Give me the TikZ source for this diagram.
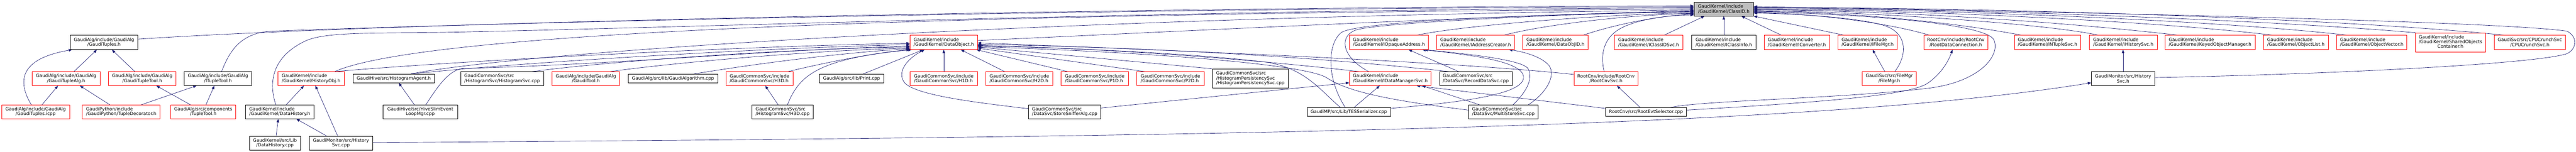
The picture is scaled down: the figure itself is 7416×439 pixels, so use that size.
\documentclass[tikz,border=0pt]{standalone}
\usepackage{fontspec}
\setmainfont{DejaVu Sans}
\usetikzlibrary{arrows.meta}
\definecolor{edgeblue}{HTML}{191970}
\definecolor{cidgray}{HTML}{BFBFBF}
\newcommand\ndfont{\fontsize{13bp}{14bp}\selectfont}
\newcommand\nd[7]{%
  \pgfmathsetmacro\ndw{#3-#2}%
  \pgfmathsetmacro\ndh{#5-#4}%
  \pgfmathsetmacro\ndx{(#2+#3)/2}%
  \pgfmathsetmacro\ndy{(#4+#5)/2}%
  \node[#6, minimum width=\ndw bp, minimum height=\ndh bp] (#1) at (\ndx,\ndy) {#7};}
\pgfdeclarelayer{back}
\pgfdeclarelayer{edges}
\pgfsetlayers{back,edges,main}
\begin{document}
\begin{tikzpicture}[x=1bp,y=-1bp,
  nb/.style={draw=black, line width=1bp, fill=white, inner sep=0pt, font=\ndfont, text=black},
  nr/.style={nb, draw=red},
  lft/.style={align=left},
  ctr/.style={align=center},
  edg/.style={draw=edgeblue, line width=1bp, -{Triangle[length=10bp,width=7.5bp]}}]
\useasboundingbox (0,0) rectangle (7416,439);
\begin{pgfonlayer}{back}
\fill[white] (0,0) rectangle (7416,439);
\end{pgfonlayer}
% ---------------- nodes
\nd{cid}{4877}{5048}{6}{46}{nb,lft,fill=cidgray}{GaudiKernel/include\\/GaudiKernel/ClassID.h}
% row 1
\nd{gt}{202}{397}{102}{143}{nb,ctr}{GaudiAlg/include/GaudiAlg\\/GaudiTuples.h}
\nd{dobj}{2620}{2814}{102}{143}{nr,lft}{GaudiKernel/include\\/GaudiKernel/DataObject.h}
\nd{iopa}{3885}{4112}{102}{143}{nr,lft}{GaudiKernel/include\\/GaudiKernel/IOpaqueAddress.h}
\nd{iac}{4136}{4360}{102}{143}{nr,lft}{GaudiKernel/include\\/GaudiKernel/IAddressCreator.h}
\nd{doid}{4384}{4572}{102}{143}{nr,lft}{GaudiKernel/include\\/GaudiKernel/DataObjID.h}
\nd{icids}{4647}{4845}{102}{143}{nr,lft}{GaudiKernel/include\\/GaudiKernel/IClassIDSvc.h}
\nd{icinfo}{4870}{5055}{102}{143}{nb,lft}{GaudiKernel/include\\/GaudiKernel/IClassInfo.h}
\nd{iconv}{5079}{5267}{102}{143}{nr,lft}{GaudiKernel/include\\/GaudiKernel/IConverter.h}
\nd{ifm}{5291}{5462}{102}{143}{nr,lft}{GaudiKernel/include\\/GaudiKernel/IFileMgr.h}
\nd{rdc}{5538}{5723}{102}{143}{nr,ctr}{RootCnv/include/RootCnv\\/RootDataConnection.h}
\nd{ints}{5799}{5990}{102}{143}{nr,lft}{GaudiKernel/include\\/GaudiKernel/INTupleSvc.h}
\nd{ihs}{6015}{6210}{102}{143}{nr,lft}{GaudiKernel/include\\/GaudiKernel/IHistorySvc.h}
\nd{kom}{6233}{6492}{102}{143}{nr,lft}{GaudiKernel/include\\/GaudiKernel/KeyedObjectManager.h}
\nd{olist}{6516}{6703}{102}{143}{nr,lft}{GaudiKernel/include\\/GaudiKernel/ObjectList.h}
\nd{ovec}{6727}{6929}{102}{143}{nr,lft}{GaudiKernel/include\\/GaudiKernel/ObjectVector.h}
\nd{soc}{6953}{7156}{95}{150}{nr}{\begin{tabular}{@{}l@{}}GaudiKernel/include\\/GaudiKernel/SharedObjects\\\multicolumn{1}{@{}c@{}}{Container.h}\end{tabular}}
\nd{cpu}{7181}{7385}{102}{143}{nr,ctr}{GaudiSvc/src/CPUCrunchSvc\\/CPUCrunchSvc.h}
% row 2
\nd{gtalg}{93}{288}{207}{247}{nr,ctr}{GaudiAlg/include/GaudiAlg\\/GaudiTupleAlg.h}
\nd{gttool}{312}{507}{207}{247}{nr,ctr}{GaudiAlg/include/GaudiAlg\\/GaudiTupleTool.h}
\nd{itt}{530}{725}{207}{247}{nb,ctr}{GaudiAlg/include/GaudiAlg\\/ITupleTool.h}
\nd{hobj}{800}{991}{207}{247}{nr,lft}{GaudiKernel/include\\/GaudiKernel/HistoryObj.h}
\nd{hagent}{1016}{1251}{214}{239}{nb}{GaudiHive/src/HistogramAgent.h}
\nd{hsvccpp}{1326}{1565}{207}{247}{nb,lft}{GaudiCommonSvc/src\\/HistogramSvc/HistogramSvc.cpp}
\nd{gtool}{1589}{1784}{207}{247}{nr,ctr}{GaudiAlg/include/GaudiAlg\\/GaudiTool.h}
\nd{galgcpp}{1809}{2066}{214}{239}{nb}{GaudiAlg/src/lib/GaudiAlgorithm.cpp}
\nd{h3d}{2090}{2283}{207}{247}{nr,lft}{GaudiCommonSvc/include\\/GaudiCommonSvc/H3D.h}
\nd{print}{2359}{2544}{214}{239}{nb}{GaudiAlg/src/lib/Print.cpp}
\nd{h1d}{2620}{2814}{207}{247}{nr,lft}{GaudiCommonSvc/include\\/GaudiCommonSvc/H1D.h}
\nd{h2d}{2838}{3031}{207}{247}{nr,lft}{GaudiCommonSvc/include\\/GaudiCommonSvc/H2D.h}
\nd{p1d}{3055}{3248}{207}{247}{nr,lft}{GaudiCommonSvc/include\\/GaudiCommonSvc/P1D.h}
\nd{p2d}{3273}{3466}{207}{247}{nr,lft}{GaudiCommonSvc/include\\/GaudiCommonSvc/P2D.h}
\nd{hpers}{3490}{3709}{199}{254}{nb,lft}{GaudiCommonSvc/src\\/HistogramPersistencySvc\\/HistogramPersistencySvc.cpp}
\nd{idms}{3885}{4120}{207}{247}{nr,lft}{GaudiKernel/include\\/GaudiKernel/IDataManagerSvc.h}
\nd{rds}{4144}{4353}{207}{247}{nb,lft}{GaudiCommonSvc/src\\/DataSvc/RecordDataSvc.cpp}
\nd{rcs}{4531}{4716}{207}{247}{nr,ctr}{RootCnv/include/RootCnv\\/RootCnvSvc.h}
\nd{fmgr}{5361}{5517}{207}{247}{nr,ctr}{GaudiSvc/src/FileMgr\\/FileMgr.h}
\nd{hsvch}{6021}{6203}{207}{247}{nb,ctr}{GaudiMonitor/src/History\\Svc.h}
% row 3
\nd{icpp}{5}{200}{303}{343}{nr,ctr}{GaudiAlg/include/GaudiAlg\\/GaudiTuples.icpp}
\nd{tdec}{237}{461}{303}{343}{nr,lft}{GaudiPython/include\\/GaudiPython/TupleDecorator.h}
\nd{ttool}{491}{679}{303}{343}{nr,ctr}{GaudiAlg/src/components\\/TupleTool.h}
\nd{dhist}{707}{904}{303}{343}{nb,lft}{GaudiKernel/include\\/GaudiKernel/DataHistory.h}
\nd{hslim}{1103}{1317}{303}{343}{nb,ctr}{GaudiHive/src/HiveSlimEvent\\LoopMgr.cpp}
\nd{h3dcpp}{2165}{2341}{303}{343}{nb,lft}{GaudiCommonSvc/src\\/HistogramSvc/H3D.cpp}
\nd{sniff}{2961}{3169}{303}{343}{nb,lft}{GaudiCommonSvc/src\\/DataSvc/StoreSnifferAlg.cpp}
\nd{tes}{3763}{4003}{311}{336}{nb}{GaudiMP/src/Lib/TESSerializer.cpp}
\nd{mss}{4228}{4428}{303}{343}{nb,lft}{GaudiCommonSvc/src\\/DataSvc/MultiStoreSvc.cpp}
\nd{res}{4622}{4855}{311}{336}{nb}{RootCnv/src/RootEvtSelector.cpp}
% row 4
\nd{dhcpp}{718}{865}{393}{433}{nb,ctr}{GaudiKernel/src/Lib\\/DataHistory.cpp}
\nd{hsvccpp2}{890}{1073}{393}{433}{nb,ctr}{GaudiMonitor/src/History\\Svc.cpp}
% ---------------- edges
\begin{pgfonlayer}{edges}
\draw[edg] (213,0 |- gtalg.north) -- (279,0 |- gt.south);
\draw[edg] (388,0 |- gttool.north) -- (322,0 |- gt.south);
\draw[edg] (90,0 |- icpp.north) .. controls (50,235) and (55,170) .. (208,0 |- gt.south);
\draw[edg] (121,0 |- icpp.north) -- (167,0 |- gtalg.south);
\draw[edg] (316,0 |- tdec.north) -- (230,0 |- gtalg.south);
\draw[edg] (407,0 |- tdec.north) -- (566,0 |- itt.south);
\draw[edg] (548,0 |- ttool.north) -- (450,0 |- gttool.south);
\draw[edg] (593,0 |- ttool.north) -- (617,0 |- itt.south);
\draw[edg] (824,0 |- dhist.north) -- (875,0 |- hobj.south);
\draw[edg] (795,0 |- dhcpp.north) -- (801,0 |- dhist.south);
\draw[edg] (940,0 |- hsvccpp2.north) -- (853,0 |- dhist.south);
\draw[edg] (972,0 |- hsvccpp2.north) -- (908,0 |- hobj.south);
\draw[edg] (1193,0 |- hslim.north) -- (1148,0 |- hagent.south);
\draw[edg] (2240,0 |- h3dcpp.north) -- (2203,0 |- h3d.south);
% to ClassID from the left
\draw[edg] (gt.east |- 0,113) .. controls (1200,60) and (3400,20) .. (cid.west |- 0,17);
\draw[edg] (638,0 |- itt.north) .. controls (660,150) and (690,96) .. (780,90) .. controls (1600,60) and (3400,22) .. (cid.west |- 0,20);
\draw[edg] (794,0 |- dhist.north) .. controls (770,230) and (790,160) .. (880,118) .. controls (940,90) and (1100,97) .. (1300,93) .. controls (2000,79) and (3500,26) .. (cid.west |- 0,23);
\draw[edg] (964,0 |- hobj.north) .. controls (1250,80) and (3000,38) .. (cid.west |- 0,26);
\draw[edg] (1183,0 |- hagent.north) .. controls (1500,150) and (3000,50) .. (cid.west |- 0,29);
\draw[edg] (dobj.east |- 0,117) .. controls (3300,95) and (4300,45) .. (cid.west |- 0,31);
\draw[edg] (3940,0 |- idms.north) .. controls (3870,170) and (3850,110) .. (3900,88) .. controls (3950,66) and (4500,40) .. (cid.west |- 0,33);
\draw[edg] (3873,0 |- tes.north) .. controls (3820,230) and (3820,130) .. (3860,95) .. controls (3900,60) and (4500,38) .. (cid.west |- 0,35);
\draw[edg] (4080,0 |- iopa.north) .. controls (4200,75) and (4600,42) .. (cid.west |- 0,37);
\draw[edg] (4330,0 |- iac.north) .. controls (4450,70) and (4700,42) .. (cid.west |- 0,39);
\draw[edg] (4558,0 |- doid.north) .. controls (4650,70) and (4780,45) .. (cid.west |- 0,41);
\draw[edg] (4618,0 |- rcs.north) .. controls (4605,150) and (4620,100) .. (4680,75) .. controls (4740,50) and (4820,44) .. (cid.west |- 0,43);
\draw[edg] (4791,0 |- icids.north) -- (4907,0 |- cid.south);
\draw[edg] (icinfo.north) -- (cid.south);
\draw[edg] (5128,0 |- iconv.north) -- (5013,0 |- cid.south);
\draw[edg] (5308,0 |- ifm.north) -- (cid.south east);
% to ClassID from the right
\draw[edg] (5554,0 |- rdc.north) .. controls (5450,70) and (5250,40) .. (cid.east |- 0,36);
\draw[edg] (5819,0 |- ints.north) .. controls (5600,60) and (5300,34) .. (cid.east |- 0,33);
\draw[edg] (6040,0 |- ihs.north) .. controls (5900,70) and (5400,34) .. (cid.east |- 0,31);
\draw[edg] (6269,0 |- kom.north) .. controls (6000,70) and (5500,30) .. (cid.east |- 0,29);
\draw[edg] (6542,0 |- olist.north) .. controls (6200,60) and (5500,28) .. (cid.east |- 0,27);
\draw[edg] (6756,0 |- ovec.north) .. controls (6400,60) and (5600,26) .. (cid.east |- 0,25);
\draw[edg] (6954,0 |- soc.north) .. controls (6500,55) and (5600,24) .. (cid.east |- 0,23);
\draw[edg] (7209,0 |- cpu.north) .. controls (6700,50) and (5700,22) .. (cid.east |- 0,21);
\draw[edg] (hsvch.east |- 0,224) .. controls (6700,215) and (7300,185) .. (7390,155) .. controls (7420,140) and (7420,105) .. (7390,90) .. controls (7200,62) and (6000,35) .. (cid.east |- 0,19);
\draw[edg] (5455,0 |- fmgr.north) .. controls (5490,160) and (5490,105) .. (5440,80) .. controls (5390,55) and (5200,40) .. (cid.east |- 0,38);
\draw[edg] (4808,0 |- res.north) .. controls (4900,290) and (5300,285) .. (5550,255) .. controls (5700,237) and (5760,160) .. (5740,115) .. controls (5725,80) and (5500,45) .. (cid.east |- 0,34);
\draw[edg] (res.east |- 0,318) .. controls (5250,295) and (5500,275) .. (5550,240) .. controls (5590,212) and (5610,175) .. (5621,0 |- rdc.south);
\draw[edg] (hsvccpp2.east |- 0,412) .. controls (3500,395) and (5200,372) .. (hsvch.west |- 0,239);
% to DataObject from the left
\draw[edg] (964,0 |- hobj.north) .. controls (1400,170) and (2200,132) .. (dobj.west |- 0,125);
\draw[edg] (1183,0 |- hagent.north) .. controls (1500,180) and (2200,138) .. (dobj.west |- 0,129);
\draw[edg] (1226,0 |- hslim.north) .. controls (1260,250) and (1290,205) .. (1330,198) .. controls (1800,185) and (2200,145) .. (dobj.west |- 0,133);
\draw[edg] (1532,0 |- hsvccpp.north) .. controls (1800,172) and (2300,140) .. (dobj.west |- 0,136);
\draw[edg] (1757,0 |- gtool.north) .. controls (1950,180) and (2350,145) .. (dobj.west |- 0,139);
\draw[edg] (1998,0 |- galgcpp.north) .. controls (2200,180) and (2450,150) .. (dobj.west |- 0,141);
\draw[edg] (2269,0 |- h3d.north) .. controls (2380,180) and (2520,152) .. (dobj.south west);
\draw[edg] (2267,0 |- h3dcpp.north) .. controls (2300,220) and (2350,170) .. (2625,0 |- dobj.south);
\draw[edg] (2485,0 |- print.north) -- (2658,0 |- dobj.south);
\draw[edg] (sniff.west |- 0,314) .. controls (2800,295) and (2640,275) .. (2605,240) .. controls (2580,210) and (2610,170) .. (2662,0 |- dobj.south);
\draw[edg] (h1d.north) -- (dobj.south);
\draw[edg] (2892,0 |- h2d.north) -- (2766,0 |- dobj.south);
\draw[edg] (3073,0 |- p1d.north) -- (2811,0 |- dobj.south);
\draw[edg] (3295,0 |- p2d.north) -- (dobj.east |- 0,139);
\draw[edg] (hpers.north west) -- (dobj.east |- 0,136);
\draw[edg] (3912,0 |- idms.north) .. controls (3500,160) and (3100,138) .. (dobj.east |- 0,131);
\draw[edg] (4171,0 |- rds.north) .. controls (3700,155) and (3200,135) .. (dobj.east |- 0,128);
\draw[edg] (3859,0 |- tes.north) .. controls (3800,260) and (3760,200) .. (3650,180) .. controls (3400,150) and (3000,136) .. (dobj.east |- 0,133);
\draw[edg] (mss.west |- 0,318) .. controls (4000,290) and (3880,265) .. (3820,225) .. controls (3760,185) and (3300,150) .. (dobj.east |- 0,135);
\draw[edg] (rcs.west |- 0,215) .. controls (4200,180) and (3500,150) .. (dobj.east |- 0,124);
% IDataManagerSvc
\draw[edg] (sniff.east |- 0,312) -- (idms.west |- 0,239);
\draw[edg] (3898,0 |- tes.north) -- (3972,0 |- idms.south);
\draw[edg] (4259,0 |- mss.north) -- (4094,0 |- idms.south);
\draw[edg] (res.west |- 0,313) -- (4078,0 |- idms.south);
% IOpaqueAddress / IAddressCreator
\draw[edg] (4199,0 |- rds.north) -- (4055,0 |- iopa.south);
\draw[edg] (tes.east |- 0,313) .. controls (4150,300) and (4370,280) .. (4385,230) .. controls (4400,180) and (4250,160) .. (4094,0 |- iopa.south);
\draw[edg] (4356,0 |- mss.north) .. controls (4390,270) and (4415,230) .. (4400,200) .. controls (4390,175) and (4250,158) .. (4100,0 |- iopa.south);
\draw[edg] (4400,0 |- mss.north) .. controls (4450,270) and (4480,220) .. (4460,190) .. controls (4440,165) and (4390,150) .. (4344,0 |- iac.south);
% misc
\draw[edg] (4722,0 |- res.north) -- (4655,0 |- rcs.south);
\draw[edg] (5426,0 |- fmgr.north) -- (5391,0 |- ifm.south);
\draw[edg] (hsvch.north) -- (hsvch.north |- ihs.south);
\end{pgfonlayer}
\end{tikzpicture}
\end{document}
